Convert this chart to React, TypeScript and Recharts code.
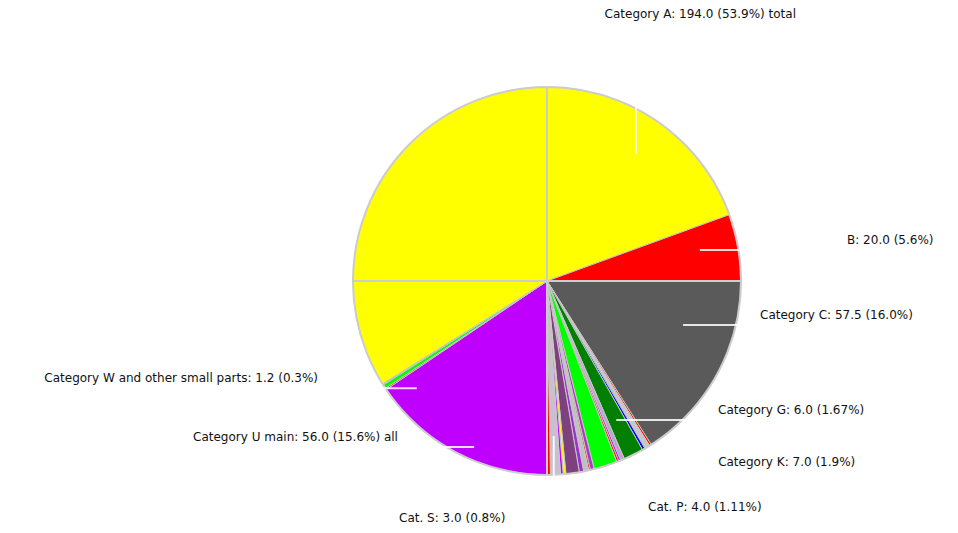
import {Cell, Pie, PieChart} from 'recharts';

// slices, clockwise from 12 o'clock
const categories = [
  'A', 'B', 'C', 'D', 'E', 'F', 'G', 'H', 'I', 'J', 'K', 'L', 'M',
  'N', 'O', 'P', 'Q', 'R', 'S', 'T', 'U', 'V', 'W', 'X', 'Y',
];
const values = [
  70, 20, 57.5, 0.6, 1.6, 0.8, 6, 1.2, 0.6, 0.6, 7, 1.2, 0.5,
  1.5, 1.3, 4, 0.8, 0.8, 3, 1, 56, 0.4, 1.2, 0.4, 122,
];
const labelTexts: Record<string, string> = {
  A: 'Category A: 194.0 (53.9%) total',
  B: 'B: 20.0 (5.6%)',
  C: 'Category C: 57.5 (16.0%)',
  G: 'Category G: 6.0 (1.67%)',
  K: 'Category K: 7.0 (1.9%)',
  P: 'Cat. P: 4.0 (1.11%)',
  S: 'Cat. S: 3.0 (0.8%)',
  U: 'Category U main: 56.0 (15.6%) all',
  W: 'Category W and other small parts: 1.2 (0.3%)',
};

const colors = [
  '#ffff00', '#ff0000', '#5a5a5a', '#ff0000', '#c8c8c8', '#0000ff', '#007f00',
  '#b8a8c8', '#c000ff', '#ff0000', '#00ff00', '#a040c0', '#ff0000', '#c0c0c0',
  '#9933cc', '#7f407f', '#ffff00', '#c000ff', '#c8c0d0', '#ff0000', '#c000ff',
  '#ff0000', '#00ff00', '#b0b0b0', '#ffff00',
];

// where each label sits: angle (deg) and distance (x outer radius)
const labelLayout: Record<string, {angle: number; dist: number; anchor: 'start' | 'middle' | 'end'}> = {
  A: {angle: 60.1, dist: 1.585, anchor: 'middle'},
  B: {angle: 7.8, dist: 1.561, anchor: 'start'},
  C: {angle: -9.07, dist: 1.112, anchor: 'start'},
  G: {angle: -37.0, dist: 1.104, anchor: 'start'},
  K: {angle: -46.6, dist: 1.284, anchor: 'start'},
  P: {angle: -65.9, dist: 1.276, anchor: 'start'},
  S: {angle: -111.8, dist: 1.316, anchor: 'middle'},
  U: {angle: 226.3, dist: 1.112, anchor: 'end'},
  W: {angle: 203.0, dist: 1.282, anchor: 'end'},
};

const pieData = categories.map((name, i) => ({name, value: values[i]}));
const quarters = [1, 1, 1, 1].map((value, i) => ({name: `q${i}`, value}));

const RAD = Math.PI / 180;

const renderLabel = (props: any) => {
  const {cx, cy, midAngle, outerRadius, index} = props;
  const name = categories[index];
  const layout = labelLayout[name];
  if (!layout) return null;
  const lx = cx + outerRadius * layout.dist * Math.cos(-layout.angle * RAD);
  const ly = cy + outerRadius * layout.dist * Math.sin(-layout.angle * RAD);
  const ix = cx + outerRadius * 0.8 * Math.cos(-midAngle * RAD);
  const iy = cy + outerRadius * 0.8 * Math.sin(-midAngle * RAD);
  const vertical = layout.anchor === 'middle';
  return (
    <g key={`lbl-${name}`}>
      {vertical ? (
        <line x1={ix} y1={ly} x2={ix} y2={iy} stroke="#ffffff" strokeOpacity={0.85} strokeWidth={2}/>
      ) : (
        <line x1={lx} y1={ly + 10} x2={ix} y2={ly + 10} stroke="#ffffff" strokeOpacity={0.85} strokeWidth={2}/>
      )}
      <text
        x={lx}
        y={ly}
        textAnchor={layout.anchor}
        dominantBaseline="central"
        fill="#111"
        fontSize={12}
        fontFamily="DejaVu Sans, sans-serif"
      >
        {labelTexts[name]}
      </text>
    </g>
  );
};

export default function App() {
  return (
    <div style={{margin: -8}}>
      <PieChart width={958} height={533} margin={{top: 0, right: 0, bottom: 0, left: 0}}>
        <Pie
          data={pieData}
          dataKey="value"
          nameKey="name"
          cx={547}
          cy={281}
          outerRadius={194}
          startAngle={90}
          endAngle={-270}
          stroke="#c8c8c8"
          strokeWidth={1}
          label={renderLabel}
          labelLine={false}
          isAnimationActive={false}
        >
          {pieData.map((d, i) => (
            <Cell key={d.name} fill={colors[i]}/>
          ))}
        </Pie>
        <Pie
          data={quarters}
          dataKey="value"
          cx={547}
          cy={281}
          outerRadius={194}
          startAngle={90}
          endAngle={-270}
          fill="none"
          stroke="#cccccc"
          strokeWidth={2}
          isAnimationActive={false}
        />
      </PieChart>
    </div>
  );
}
